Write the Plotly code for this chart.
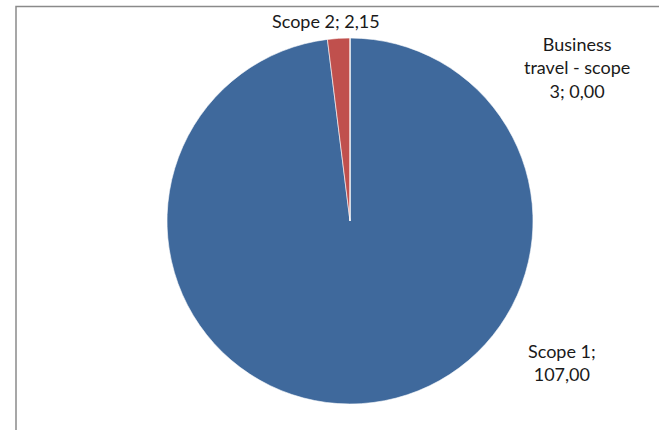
import plotly.graph_objects as go

labels = ["Scope 1", "Scope 2", "Business travel - scope 3"]
values = [107.00, 2.15, 0.00]
colors = ["#3F699C", "#C0504D", "#9BBB59"]
# label display text (line breaks as in reference)
label_lines = [["Scope 1;", "{v}"], ["Scope 2; {v}"], ["Business", "travel - scope", "3; {v}"]]
# label anchor positions in paper fraction
label_pos = [(562 / 659, 1 - 362 / 430), (326 / 659, 1 - 21 / 430), (577 / 659, 1 - 68 / 430)]

W, H = 659, 430
cx, cy, r = 350, 221, 183

fig = go.Figure()
fig.add_trace(go.Pie(
    labels=labels, values=values, sort=False, direction="clockwise", rotation=0,
    marker=dict(colors=colors, line=dict(color="white", width=0.6)),
    textinfo="none", hoverinfo="label+value", showlegend=False,
    domain=dict(x=[(cx - r) / W, (cx + r) / W], y=[(H - cy - r) / H, (H - cy + r) / H]),
))

for lab, val, lines, (ax, ay) in zip(labels, values, label_lines, label_pos):
    vs = f"{val:.2f}".replace(".", ",")
    txt = "<br>".join(l.format(v=vs) for l in lines)
    fig.add_annotation(x=ax, y=ay, xref="paper", yref="paper", text=txt, showarrow=False,
                       xanchor="center", yanchor="middle", align="center",
                       font=dict(family="Lato", size=18, color="#1a1a1a"))

fig.add_shape(type="rect", xref="paper", yref="paper", x0=16 / W, x1=1.05, y0=-0.05, y1=1 - 6.5 / H,
              line=dict(color="#8a8a8a", width=1.5), layer="below")

fig.update_layout(width=W, height=H, margin=dict(l=0, r=0, t=0, b=0),
                  paper_bgcolor="white", plot_bgcolor="white")
fig.write_html("out.html", post_script="document.body.style.margin='0';",
               config={"displayModeBar": False})
